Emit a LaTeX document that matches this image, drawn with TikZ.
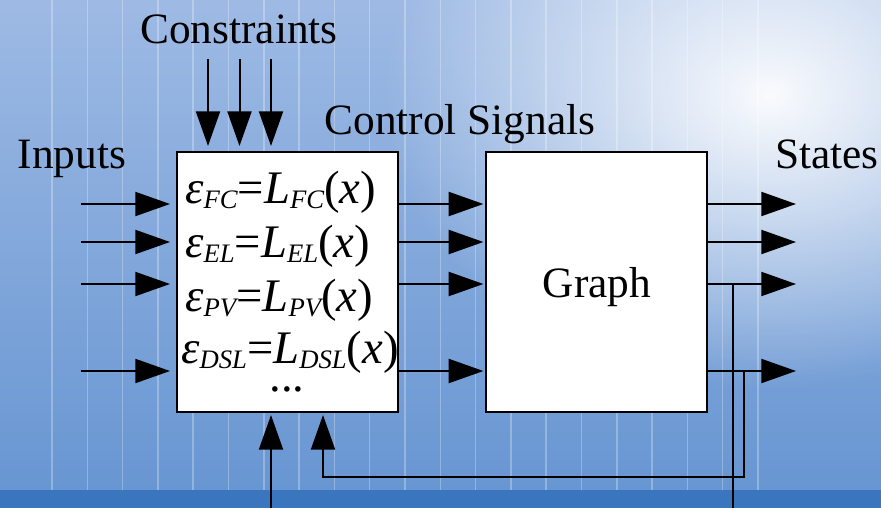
\documentclass[tikz,border=0pt]{standalone}
\usepackage{fontspec}
\setmainfont{Liberation Serif}
\usetikzlibrary{arrows.meta,fadings}
\definecolor{bgtop}{RGB}{158,186,228}
\definecolor{bgbot}{RGB}{104,150,210}
\definecolor{band}{RGB}{58,118,190}
\tikzfading[name=glowfade, inner color=transparent!0, outer color=transparent!100]
\newcommand\eqsb[1]{\raisebox{-0.12em}{\fontsize{20}{21}\selectfont\itshape #1}}
\newcommand\eqrow[1]{\textit{ε}\eqsb{#1}=\textit{L}\eqsb{#1}(\textit{x})}
\tikzset{
  arr/.style={line width=1.5pt, -{Triangle[length=26pt,width=18pt]}},
  plainline/.style={line width=1.5pt},
  boxst/.style={draw, fill=white, line width=1.9pt, inner sep=0pt,
    minimum width=165.75pt, minimum height=195pt},
  lbl/.style={font=\fontsize{32.5}{38}\selectfont, anchor=base, inner sep=0pt},
  eqn/.style={font=\fontsize{35}{40}\selectfont, anchor=base west, inner sep=0pt,
    text depth=2pt}
}
\begin{document}
\begin{tikzpicture}[x=0.75pt,y=-0.75pt]
\useasboundingbox (0,0) rectangle (881,508);
% background
\shade[top color=bgtop, bottom color=bgbot] (0,0) rectangle (881,490);
\foreach \i in {0,...,20}
  \draw[white, opacity=0.28, line width=1.1pt] ({52+35.3*\i},0) -- ({52+35.3*\i},490);
\fill[white, path fading=glowfade, fill opacity=0.95] (770,95) ellipse [x radius=290pt, y radius=220pt];
\fill[band] (0,490) rectangle (881,508);

% boxes
\node[boxst] (ctrl) at (287.5,282) {};
\node[boxst] (graph) at (596.5,282) {};

% labels
\node[lbl] (lcons) at (239,43) {Constraints};
\node[lbl] (lcs) at (460,134) {Control Signals};
\node[lbl] (lin) at (72,168) {Inputs};
\node[lbl] (lst) at (827,168) {States};
\node[lbl] (lgr) at (597,297) {Graph};

% equations
\node[eqn] (e1) at (185,203) {\eqrow{FC}};
\node[eqn] (e2) at (185,257) {\eqrow{EL}};
\node[eqn] (e3) at (185,311) {\eqrow{PV}};
\node[eqn] (e4) at (181,363) {\eqrow{DSL}};
\node[eqn, anchor=base, text height=4pt, text depth=0pt] (e5) at (287,391) {...};

% coordinates
\foreach \n/\y in {1/204,2/242,3/284,4/371}{
  \coordinate (ins\n) at (81,\y);
  \coordinate (ine\n) at (170,\y);
  \coordinate (oute\n) at (796,\y);
}
\foreach \n/\x in {1/208,2/239.5,3/271}{
  \coordinate (cs\n) at (\x,59);
  \coordinate (ce\n) at (\x,146);
}
\coordinate (b1s) at (271,508);
\coordinate (b1e) at (271,415);
\coordinate (j3) at (733,284);
\coordinate (j3e) at (733,508);
\coordinate (j4) at (744,371);
\coordinate (fbc) at (744,477);
\coordinate (fbe) at (323,415);

% arrows
\foreach \n in {1,2,3,4}{
  \draw[arr] (ins\n) -- (ine\n);
  \draw[arr] (ctrl.east |- ins\n) -- ([xshift=-1pt]graph.west |- ins\n);
  \draw[arr] (graph.east |- ins\n) -- (oute\n);
}
\foreach \n in {1,2,3}
  \draw[arr] (cs\n) -- (ce\n);
\draw[arr] (b1s) -- (b1e);
\draw[plainline] (j3) -- (j3e);
\draw[arr] (j4) -- (fbc) -| (fbe);
\end{tikzpicture}
\end{document}
